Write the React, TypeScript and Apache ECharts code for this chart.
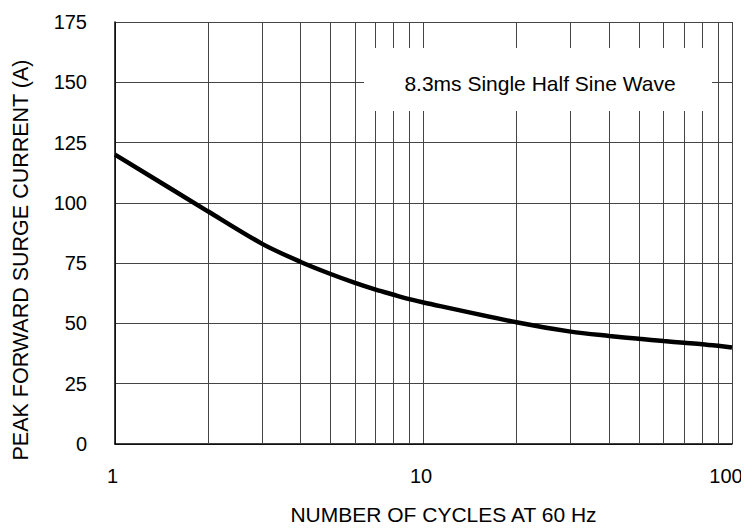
import React, { useEffect, useRef } from "react";
import * as echarts from "echarts";

const cycles = [1, 2, 3, 4, 5, 6, 7, 8, 9, 10, 20, 30, 40, 50, 60, 70, 80, 90, 100];
const surgeCurrent = [120, 96.5, 83, 75.5, 70.5, 66.8, 64, 61.9, 60.1, 58.7, 50.5, 46.6, 44.8, 43.6, 42.7, 42.0, 41.4, 40.7, 40];
const minorGridX = [2, 3, 4, 5, 6, 7, 8, 9, 20, 30, 40, 50, 60, 70, 80, 90];
const yTicks = { min: 0, max: 175, interval: 25 };
const annotation = "8.3ms Single Half Sine Wave";
const xName = "NUMBER OF CYCLES AT 60 Hz";
const yName = "PEAK FORWARD SURGE CURRENT (A)";

const FONT = "'Liberation Sans', Arial, sans-serif";
const GRID_COLOR = "#444";

export default function App() {
  const ref = useRef<HTMLDivElement>(null);
  useEffect(() => {
    if (!ref.current) return;
    const chart = echarts.init(ref.current, null, { renderer: "svg" });
    const pts = cycles.map((c, i) => [c, surgeCurrent[i]]);
    chart.setOption({
      animation: false,
      backgroundColor: "#fff",
      textStyle: { fontFamily: FONT },
      grid: { left: 115, right: 17, top: 22, bottom: 84, containLabel: false },
      xAxis: {
        type: "log",
        logBase: 10,
        min: 1,
        max: 100,
        name: xName,
        nameLocation: "middle",
        nameGap: 60,
        nameTextStyle: { fontSize: 21, color: "#000", fontFamily: FONT, padding: [0, 0, 0, 40] },
        axisLine: { show: true, lineStyle: { color: "#000", width: 1.5 } },
        axisTick: { show: false },
        axisLabel: {
          fontSize: 20,
          color: "#000",
          margin: 22,
          fontFamily: FONT,
          padding: [0, 5, 0, 0],
          formatter: (v: number) => (v >= 100 ? "{m|" + v + "}" : String(v)),
          rich: { m: { fontSize: 20, fontFamily: FONT, color: "#000", padding: [0, 7, 0, 0] } },
        },
        splitLine: { show: true, lineStyle: { color: GRID_COLOR, width: 1 } },
      },
      yAxis: {
        type: "value",
        min: yTicks.min,
        max: yTicks.max,
        interval: yTicks.interval,
        name: yName,
        nameLocation: "middle",
        nameGap: 83,
        nameTextStyle: { fontSize: 21.5, color: "#000", fontFamily: FONT, padding: [0, 54, 0, 0] },
        axisLine: { show: true, lineStyle: { color: "#000", width: 1.5 } },
        axisTick: { show: false },
        axisLabel: { fontSize: 20, color: "#000", margin: 28, fontFamily: FONT },
        splitLine: { show: true, lineStyle: { color: GRID_COLOR, width: 1 } },
      },
      series: [
        {
          type: "line",
          data: pts,
          z: 1,
          silent: true,
          symbol: "none",
          lineStyle: { opacity: 0, width: 0 },
          markLine: {
            silent: true,
            symbol: "none",
            label: { show: false },
            lineStyle: { color: GRID_COLOR, width: 1, type: "solid" },
            data: minorGridX.map((v) => ({ xAxis: v })),
          },
        },
        {
          type: "line",
          data: pts,
          z: 5,
          smooth: 0.3,
          symbol: "none",
          lineStyle: { color: "#000", width: 4.5 },
        },
      ],
      graphic: [
        {
          type: "rect",
          z: 100,
          shape: { x: 364, y: 48, width: 348, height: 63 },
          style: { fill: "#fff" },
        },
        {
          type: "text",
          z: 101,
          x: 540,
          y: 83,
          style: {
            text: annotation,
            fontSize: 21,
            fontFamily: FONT,
            fill: "#000",
            align: "center",
            verticalAlign: "middle",
          },
        },
      ],
    });
    return () => chart.dispose();
  }, []);
  return <div ref={ref} style={{ width: 749, height: 530, margin: -8 }} />;
}
